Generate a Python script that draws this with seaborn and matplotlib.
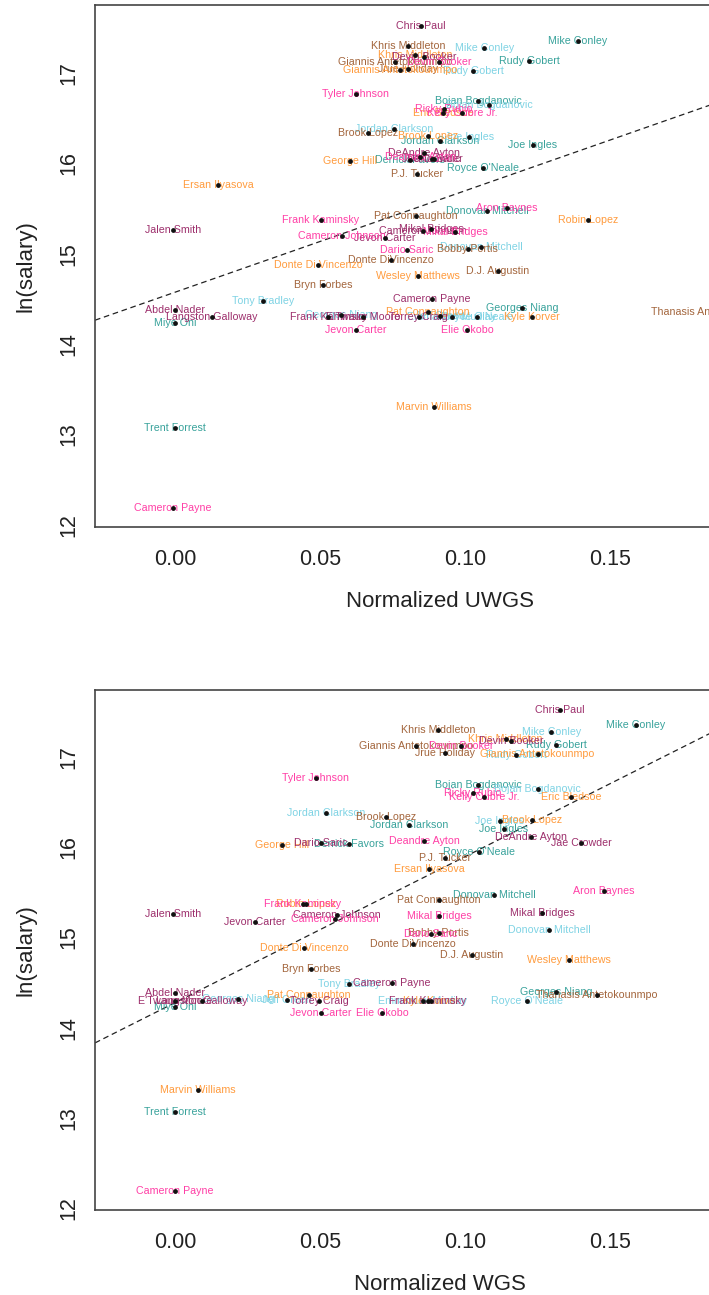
import numpy as np
import pandas as pd
import matplotlib
matplotlib.use("Agg")
import matplotlib.pyplot as plt
import seaborn as sns

# Player, roster (team + season), log salary, and the two normalized scores
player = [
    # Utah 2020-21
    "Mike Conley", "Rudy Gobert", "Bojan Bogdanovic", "Jordan Clarkson", "Joe Ingles",
    "Royce O'Neale", "Donovan Mitchell", "Derrick Favors", "Georges Niang", "Trent Forrest",
    "Miye Oni",
    # Utah 2019-20
    "Mike Conley", "Rudy Gobert", "Bojan Bogdanovic", "Jordan Clarkson", "Joe Ingles",
    "Royce O'Neale", "Donovan Mitchell", "Georges Niang", "Tony Bradley", "Jeff Green",
    "Emmanuel Mudiay",
    # Milwaukee 2020-21
    "Khris Middleton", "Giannis Antetokounmpo", "Jrue Holiday", "Brook Lopez", "P.J. Tucker",
    "Pat Connaughton", "Bobby Portis", "Donte DiVincenzo", "D.J. Augustin", "Bryn Forbes",
    "Thanasis Antetokounmpo",
    # Milwaukee 2019-20
    "Khris Middleton", "Giannis Antetokounmpo", "Eric Bledsoe", "Brook Lopez", "George Hill",
    "Ersan Ilyasova", "Robin Lopez", "Donte Di Vincenzo", "Wesley Matthews", "Pat Connaughton",
    "Kyle Korver", "Marvin Williams",
    # Phoenix 2020-21
    "Chris Paul", "Devin Booker", "DeAndre Ayton", "Mikal Bridges", "Cameron Johnson",
    "Jae Crowder", "Dario Saric", "Cameron Payne", "Torrey Craig", "E'Twaun Moore",
    "Frank Kaminsky", "Abdel Nader", "Langston Galloway", "Jalen Smith", "Jevon Carter",
    # Phoenix 2019-20
    "Devin Booker", "Ricky Rubio", "Kelly Oubre Jr.", "Deandre Ayton", "Aron Baynes",
    "Mikal Bridges", "Dario Saric", "Cameron Johnson", "Frank Kaminsky", "Tyler Johnson",
    "Jevon Carter", "Elie Okobo", "Cameron Payne",
]

roster = (["UTA21"] * 11 + ["UTA20"] * 11 + ["MIL21"] * 11 + ["MIL20"] * 12
          + ["PHX21"] * 15 + ["PHX20"] * 13)

ln_salary = [
    17.35, 17.13, 16.69, 16.25, 16.20, 15.95, 15.47, 16.04, 14.40, 13.07, 14.23,
    17.28, 17.02, 16.65, 16.38, 16.29, 14.30, 15.08, 14.32, 14.48, 14.31, 14.30,
    17.30, 17.12, 17.04, 16.34, 15.88, 15.42, 15.05, 14.93, 14.81, 14.65, 14.36,
    17.20, 17.03, 16.56, 16.30, 16.03, 15.76, 15.37, 14.88, 14.75, 14.36, 14.30, 13.31,
    17.52, 17.18, 16.11, 15.27, 15.25, 16.05, 16.05, 14.50, 14.30, 14.30, 14.30, 14.38,
    14.30, 15.26, 15.17,
    17.12, 16.60, 16.56, 16.07, 15.51, 15.24, 15.04, 15.20, 15.37, 16.77, 14.16, 14.16,
    12.19,
]

uwgs = [
    0.1390, 0.1221, 0.1045, 0.0914, 0.1234, 0.1062, 0.1076, 0.0810, 0.1197, 0.0000, 0.0000,
    0.1066, 0.1028, 0.1083, 0.0755, 0.1014, 0.1041, 0.1055, 0.0572, 0.0303, 0.0914, 0.0955,
    0.0803, 0.0759, 0.0803, 0.0666, 0.0834, 0.0831, 0.1010, 0.0745, 0.1114, 0.0510, 0.1850,
    0.0828, 0.0776, 0.0924, 0.0872, 0.0603, 0.0148, 0.1424, 0.0493, 0.0838, 0.0872, 0.1231,
    0.0893,
    0.0848, 0.0859, 0.0859, 0.0883, 0.0855, 0.0886, 0.0893, 0.0886, 0.0840, 0.0648, 0.0528,
    0.0000, 0.0128, -0.0007, 0.0724,
    0.0910, 0.0928, 0.0990, 0.0845, 0.1145, 0.0966, 0.0800, 0.0576, 0.0503, 0.0624, 0.0624,
    0.1007, -0.0007,
]

wgs = [
    0.1590, 0.1314, 0.1045, 0.0807, 0.1134, 0.1048, 0.1100, 0.0600, 0.1314, 0.0000, 0.0000,
    0.1297, 0.1176, 0.1250, 0.0520, 0.1120, 0.1214, 0.1290, 0.0217, 0.0600, 0.0386, 0.0855,
    0.0907, 0.0831, 0.0931, 0.0728, 0.0930, 0.0910, 0.0910, 0.0820, 0.1024, 0.0470, 0.1455,
    0.1140, 0.1250, 0.1366, 0.1231, 0.0369, 0.0876, 0.0452, 0.0445, 0.1360, 0.0462, 0.0883,
    0.0079,
    0.1328, 0.1159, 0.1228, 0.1266, 0.0559, 0.1400, 0.0503, 0.0748, 0.0497, 0.0000, 0.0872,
    0.0000, 0.0093, -0.0007, 0.0276,
    0.0986, 0.1028, 0.1066, 0.0860, 0.1480, 0.0910, 0.0883, 0.0552, 0.0441, 0.0486, 0.0503,
    0.0714, 0.0000,
]

roster_colors = {
    "UTA21": "#38a29b",
    "UTA20": "#7fd3e4",
    "MIL21": "#a3653c",
    "MIL20": "#ff9b3d",
    "PHX21": "#9d2f6c",
    "PHX20": "#ff3fa6",
}

# Least-squares lines (intercept, slope) of ln(salary) on each score
fit_uwgs = (14.575, 11.22)
fit_wgs = (14.277, 16.18)

sns.set_style("white")
plt.rcParams["font.family"] = ["Liberation Sans", "DejaVu Sans"]

df = pd.DataFrame({
    "player": player,
    "roster": roster,
    "ln_salary": ln_salary,
    "uwgs": uwgs,
    "wgs": wgs,
})

W, H = 709, 1295
fig = plt.figure(figsize=(W / 100, H / 100), dpi=100)
left_px, right_px = 95, 784
ax_top = fig.add_axes([left_px / W, (H - 527) / H, (right_px - left_px) / W, 522 / H])
ax_bot = fig.add_axes([left_px / W, (H - 1210) / H, (right_px - left_px) / W, 520 / H])

x_lim = (-0.0276, (right_px - 175) / 2900)


def draw_panel(ax, xcol, fit, xlabel, ylim):
    for _, row in df.iterrows():
        ax.text(row[xcol], row["ln_salary"], row["player"],
                color=roster_colors[row["roster"]], fontsize=7.7,
                ha="center", va="center", zorder=3)
    sns.scatterplot(data=df, x=xcol, y="ln_salary", color="#111111", s=12,
                    linewidth=0, ax=ax, zorder=4, legend=False)
    ax.axline((0, fit[0]), slope=fit[1], color="#222222", lw=0.9,
              ls=(0, (4.5, 3)), zorder=2)
    ax.set_xlim(*x_lim)
    ax.set_ylim(*ylim)
    ax.set_xticks([0.0, 0.05, 0.10, 0.15])
    ax.set_xticklabels(["0.00", "0.05", "0.10", "0.15"])
    ax.set_yticks([12, 13, 14, 15, 16, 17])
    ax.set_yticklabels(["12", "13", "14", "15", "16", "17"], rotation=90, va="center")
    ax.tick_params(axis="both", direction="out", length=7, width=1,
                   labelsize=15.5, color="#333333", labelcolor="#222222")
    ax.tick_params(axis="x", pad=8, length=8)
    ax.tick_params(axis="y", pad=4)
    ax.set_xlabel(xlabel, fontsize=16, color="#222222", labelpad=15)
    ax.set_ylabel("ln(salary)", fontsize=16, color="#222222", labelpad=16)
    for side in ["top", "left", "bottom", "right"]:
        ax.spines[side].set_color("#444444")
        ax.spines[side].set_linewidth(1.2)
    ax.grid(False)


draw_panel(ax_top, "uwgs", fit_uwgs, "Normalized UWGS", (11.978, 17.752))
draw_panel(ax_bot, "wgs", fit_wgs, "Normalized WGS", (11.978, 17.743))

fig.savefig("out.png", dpi=100, facecolor="white")
